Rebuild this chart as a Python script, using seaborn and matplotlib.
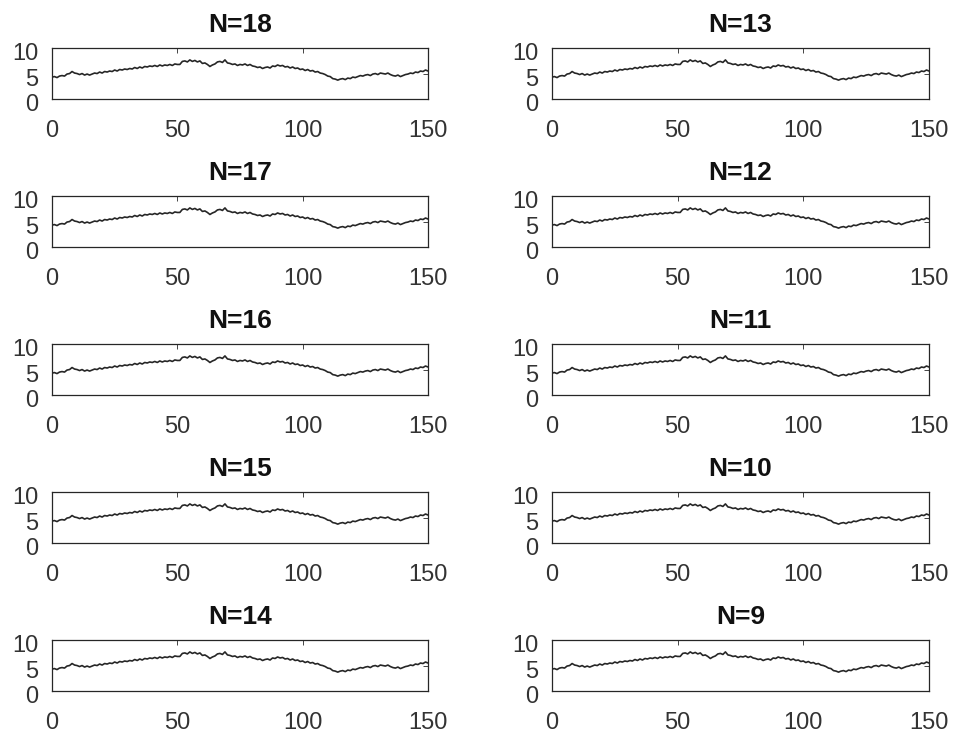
import numpy as np
import pandas as pd
import matplotlib
matplotlib.use("Agg")
import matplotlib.pyplot as plt
import matplotlib.transforms as mtrans
import seaborn as sns

# ---- data ----
left_titles = ["N=18", "N=17", "N=16", "N=15", "N=14"]
right_titles = ["N=13", "N=12", "N=11", "N=10", "N=9"]
x_vals = list(range(0, 151))
y_vals = [
    4.3, 4.4, 4.2, 4.5, 4.6, 4.5, 4.9, 5.0, 5.4, 5.1, 5.0,
    4.8, 5.0, 4.7, 4.9, 4.7, 4.9, 5.1, 5.0, 5.3, 5.1,
    5.4, 5.3, 5.5, 5.4, 5.7, 5.5, 5.8, 5.7, 5.9, 5.8,
    6.0, 5.9, 6.2, 6.0, 6.3, 6.1, 6.4, 6.3, 6.5, 6.4,
    6.6, 6.4, 6.7, 6.5, 6.7, 6.6, 6.8, 6.6, 6.9, 6.8,
    6.8, 7.4, 7.5, 7.3, 7.7, 7.4, 7.6, 7.3, 7.5, 7.0,
    7.1, 6.8, 6.4, 6.7, 6.9, 7.3, 7.4, 7.2, 7.7, 7.1,
    7.0, 6.8, 6.9, 6.6, 6.8, 6.7, 6.9, 6.6, 6.8, 6.5,
    6.4, 6.2, 6.3, 6.0, 6.2, 6.3, 6.1, 6.5, 6.4, 6.7,
    6.5, 6.6, 6.3, 6.4, 6.1, 6.3, 6.0, 6.1, 5.8, 5.9,
    5.6, 5.8, 5.5, 5.6, 5.3, 5.4, 5.1, 5.0, 4.8, 4.5,
    4.4, 4.0, 3.9, 3.7, 3.9, 4.0, 3.8, 4.1, 4.0, 4.3,
    4.2, 4.4, 4.6, 4.5, 4.7, 4.8, 4.6, 4.9, 5.0, 4.8,
    5.1, 5.0, 4.9, 5.1, 4.8, 4.6, 4.5, 4.7, 4.4, 4.6,
    4.8, 4.9, 5.1, 5.0, 5.3, 5.2, 5.5, 5.4, 5.7, 5.5,
]
x_ticks = [0, 50, 100, 150]
y_ticks = [0, 5, 10]

df = pd.DataFrame({"x": x_vals, "y": y_vals})

sns.set_theme(style="white")
plt.rcParams["font.family"] = ["Liberation Sans", "DejaVu Sans"]

W, H = 956, 738
fig = plt.figure(figsize=(W / 100, H / 100), dpi=100)

col_lefts = [52, 552]
col_widths = [376, 377]
row_top0 = 48.3
row_step = 148
ax_h = 50.5

for c, titles in enumerate([left_titles, right_titles]):
    for r, t in enumerate(titles):
        top = row_top0 + r * row_step
        rect = [col_lefts[c] / W, 1 - (top + ax_h) / H, col_widths[c] / W, ax_h / H]
        ax = fig.add_axes(rect)
        sns.lineplot(data=df, x="x", y="y", ax=ax, color="#262626", linewidth=1.2)
        ax.set_xlim(0, 150)
        ax.set_ylim(0, 10)
        ax.set_xticks(x_ticks)
        ax.set_yticks(y_ticks)
        ax.set_xlabel("")
        ax.set_ylabel("")
        ax.set_title(t, fontsize=19, fontweight="bold", pad=12, color="#111111")
        ax.tick_params(direction="in", length=3.5, width=0.6, colors="#262626",
                       top=True, right=True, labelsize=17, labelcolor="#333333")
        ax.tick_params(axis="x", pad=15)
        ax.tick_params(axis="y", pad=10)
        off = mtrans.ScaledTranslation(0, -3.5 / 100, fig.dpi_scale_trans)
        for lab in ax.get_yticklabels():
            lab.set_transform(lab.get_transform() + off)
        for s in ax.spines.values():
            s.set_linewidth(0.9)
            s.set_color("#262626")

fig.savefig("out.png", dpi=100)
